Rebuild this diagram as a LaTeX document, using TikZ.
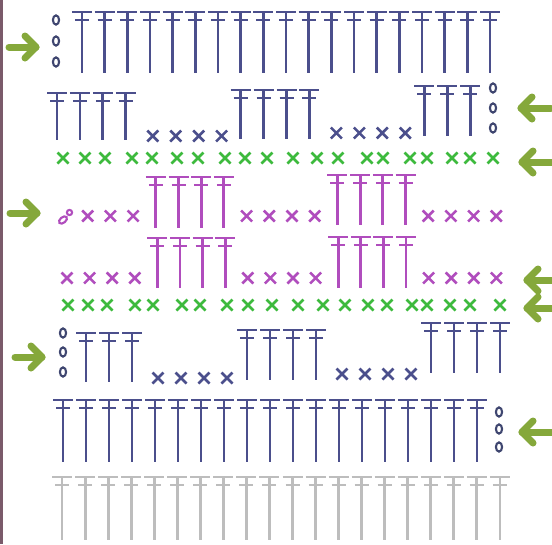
\documentclass[tikz,border=0pt]{standalone}
\definecolor{navy}{HTML}{4B4F8C}
\definecolor{navyo}{HTML}{3F4670}
\definecolor{grx}{HTML}{3DBA3D}
\definecolor{mag}{HTML}{B04DBD}
\definecolor{gry}{HTML}{BDBDBD}
\definecolor{arrg}{HTML}{85A83B}
\definecolor{edge}{HTML}{7A5A6A}
\tikzset{
  st/.style={line width=2.9pt},
  xst/.style={line width=2.6pt},
  chst/.style={line width=2.1pt},
  arr/.style={line width=7pt, color=arrg, line cap=round, line join=round}
}
% double crochet: color, x, top, bottom
\newcommand{\DcSt}[4]{%
  \draw[st,#1] (#2-10,#3) -- (#2+10,#3);
  \draw[st,#1] (#2-7,#3+8) -- (#2+7,#3+8);
  \draw[st,#1] (#2,#3) -- (#2,#4);}
% single crochet: color, x, y
\newcommand{\ScSt}[3]{%
  \draw[xst,#1] (#2-5.5,#3-5.5) -- (#2+5.5,#3+5.5) (#2-5.5,#3+5.5) -- (#2+5.5,#3-5.5);}
% chain: color, x, y
\newcommand{\ChSt}[3]{%
  \draw[chst,#1] (#2,#3) ellipse [x radius=3.1pt, y radius=4.6pt];}
% arrows: tip x, y
\newcommand{\ArrRight}[2]{%
  \draw[arr] (#1-27,#2) -- (#1,#2);
  \draw[arr] (#1-11,#2-11) -- (#1,#2) -- (#1-11,#2+11);}
\newcommand{\ArrLeft}[2]{%
  \draw[arr] (#1+30,#2) -- (#1,#2);
  \draw[arr] (#1+11,#2-11) -- (#1,#2) -- (#1+11,#2+11);}
\begin{document}
\begin{tikzpicture}[x=1pt,y=-1pt]
\useasboundingbox (0,0) rectangle (552,544);
\clip (0,0) rectangle (552,544);
\fill[white] (0,0) rectangle (552,544);
\fill[edge] (0,0) rectangle (2.5,544);

% ---- Row 1 (top, navy)
\foreach \y in {20,41,62} {\ChSt{navyo}{56}{\y}}
\foreach \c in {1,...,19} {\pgfmathsetmacro{\xx}{59.3+22.67*\c}\DcSt{navy}{\xx}{12}{73}}

% ---- Row A (navy)
\foreach \c in {0,...,3} {\pgfmathsetmacro{\xx}{57+22.95*\c}\DcSt{navy}{\xx}{93}{140}}
\foreach \c in {4,...,7} {\pgfmathsetmacro{\xx}{61+22.95*\c}\ScSt{navy}{\xx}{136}}
\foreach \c in {8,...,11} {\pgfmathsetmacro{\xx}{57+22.95*\c}\DcSt{navy}{\xx}{90}{139}}
\foreach \c in {12,...,15} {\pgfmathsetmacro{\xx}{61+22.95*\c}\ScSt{navy}{\xx}{133}}
\foreach \c in {16,...,18} {\pgfmathsetmacro{\xx}{57+22.95*\c}\DcSt{navy}{\xx}{86}{136}}
\foreach \y in {88,108,128} {\ChSt{navyo}{493}{\y}}

% ---- Green row 1
\foreach \xx in {63,85,105,132,152,177,198,225,245,267,293,317,338,367,383,410,427,452,470,493} {\ScSt{grx}{\xx}{158}}

% ---- Magenta row 1
\draw[chst,mag,rotate around={40:(63,220)}] (63,220) ellipse [x radius=4.6pt, y radius=2.8pt];
\draw[chst,mag] (69.5,212.5) circle [radius=2.6pt];
\foreach \c in {1,2,3,8,9,10,11,16,17,18,19} {\pgfmathsetmacro{\xx}{65+22.7*\c}\ScSt{mag}{\xx}{216}}
\foreach \c in {4,...,7} {\pgfmathsetmacro{\xx}{65+22.7*\c}\DcSt{mag}{\xx}{177}{228}}
\foreach \c in {12,...,15} {\pgfmathsetmacro{\xx}{65+22.7*\c}\DcSt{mag}{\xx}{175}{225}}

% ---- Magenta row 2
\foreach \c in {0,1,2,3,8,9,10,11,16,17,18,19} {\pgfmathsetmacro{\xx}{67+22.6*\c}\ScSt{mag}{\xx}{278}}
\foreach \c in {4,...,7} {\pgfmathsetmacro{\xx}{67+22.6*\c}\DcSt{mag}{\xx}{238}{288}}
\foreach \c in {12,...,15} {\pgfmathsetmacro{\xx}{67+22.6*\c}\DcSt{mag}{\xx}{237}{288}}

% ---- Green row 2
\foreach \xx in {68,88,107,135,153,182,200,227,248,272,298,323,345,368,387,412,427,450,470,500} {\ScSt{grx}{\xx}{305}}

% ---- Navy row B
\foreach \y in {333,352,372} {\ChSt{navyo}{63}{\y}}
\foreach \c in {1,...,3} {\pgfmathsetmacro{\xx}{63+23*\c}\DcSt{navy}{\xx}{333}{382}}
\foreach \c in {4,...,7} {\pgfmathsetmacro{\xx}{66+23*\c}\ScSt{navy}{\xx}{378}}
\foreach \c in {8,...,11} {\pgfmathsetmacro{\xx}{63+23*\c}\DcSt{navy}{\xx}{330}{380}}
\foreach \c in {12,...,15} {\pgfmathsetmacro{\xx}{66+23*\c}\ScSt{navy}{\xx}{374}}
\foreach \c in {16,...,19} {\pgfmathsetmacro{\xx}{63+23*\c}\DcSt{navy}{\xx}{323}{373}}

% ---- Navy row C
\foreach \c in {0,...,18} {\pgfmathsetmacro{\xx}{63+23*\c}\DcSt{navy}{\xx}{400}{462}}
\foreach \y in {412,429,447} {\ChSt{navyo}{499}{\y}}

% ---- Gray row
\foreach \c in {0,...,19} {\pgfmathsetmacro{\xx}{62+23.05*\c}\DcSt{gry}{\xx}{477}{540}}

% ---- Arrows
\ArrRight{36}{47}
\ArrRight{37}{213}
\ArrRight{42}{357}
\ArrLeft{521}{108}
\ArrLeft{522}{162}
\ArrLeft{527}{280}
\ArrLeft{527}{308}
\ArrLeft{522}{432}
\end{tikzpicture}
\end{document}
